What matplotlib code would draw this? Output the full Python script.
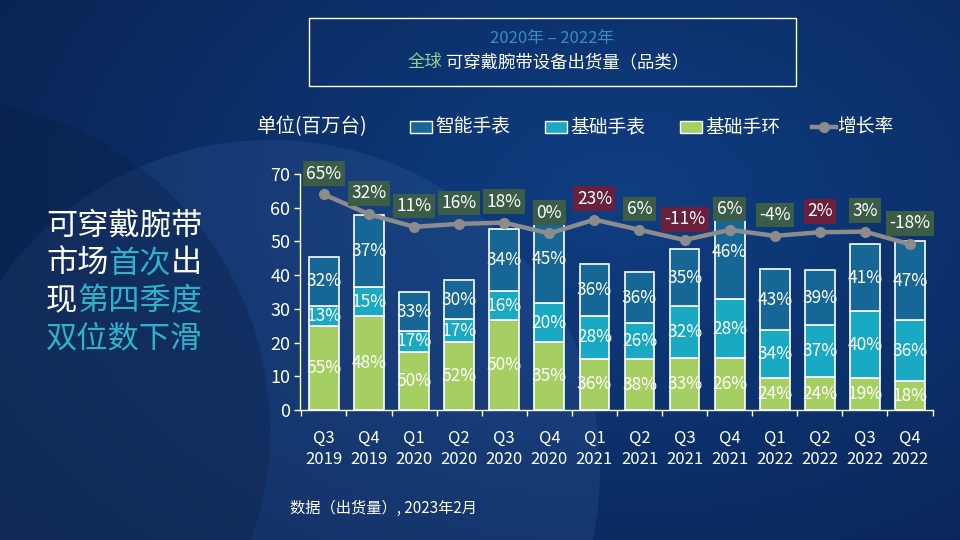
import matplotlib
matplotlib.use("Agg")
import matplotlib.pyplot as plt
import numpy as np
from matplotlib.patches import Rectangle, Circle
from matplotlib.lines import Line2D

plt.rcParams['font.family'] = ['Noto Sans CJK SC', 'DejaVu Sans']

quarters = ["Q3\n2019", "Q4\n2019", "Q1\n2020", "Q2\n2020", "Q3\n2020", "Q4\n2020", "Q1\n2021",
            "Q2\n2021", "Q3\n2021", "Q4\n2021", "Q1\n2022", "Q2\n2022", "Q3\n2022", "Q4\n2022"]
band = [25.0, 27.9, 17.3, 20.1, 26.6, 20.1, 15.2, 15.1, 15.3, 15.3, 9.4, 9.7, 9.4, 8.5]
basic_watch = [5.9, 8.5, 6.1, 6.8, 8.7, 11.5, 12.7, 10.6, 15.6, 17.5, 14.2, 15.5, 19.9, 18.1]
smart_watch = [14.6, 21.4, 11.5, 11.6, 18.4, 26.2, 15.3, 15.1, 16.8, 28.3, 18.1, 16.2, 20.0, 23.4]
band_pct = [55, 48, 50, 52, 50, 35, 36, 38, 33, 26, 24, 24, 19, 18]
basic_pct = [13, 15, 17, 17, 16, 20, 28, 26, 32, 28, 34, 37, 40, 36]
smart_pct = [32, 37, 33, 30, 34, 45, 36, 36, 35, 46, 43, 39, 41, 47]
growth = [65, 32, 11, 16, 18, 0, 23, 6, -11, 6, -4, 2, 3, -18]
series_names = ["智能手表", "基础手表", "基础手环", "增长率"]

C_SMART = "#176796"
C_BASIC = "#19a9c2"
C_BAND = "#a5cf63"
C_LINE = "#8c8c8c"
C_GBOX = "#3b5d48"
C_RBOX = "#6a1f3c"
TEAL = "#2db3c6"

W, H = 960, 540
fig = plt.figure(figsize=(9.6, 5.4), dpi=100)

# background
bg = fig.add_axes([0, 0, 1, 1])
bg.set_xlim(0, W); bg.set_ylim(H, 0); bg.axis("off")
yy, xx = np.mgrid[0:H, 0:W]
d = np.sqrt(((xx - 620) / 620.0) ** 2 + ((yy - 200) / 420.0) ** 2)
d = np.clip(d, 0, 1.3) / 1.3
c_in = np.array([0x0f, 0x3e, 0x82]) / 255
c_out = np.array([0x08, 0x1f, 0x4c]) / 255
img = c_in[None, None, :] * (1 - d[..., None]) + c_out[None, None, :] * d[..., None]
bg.imshow(img, extent=[0, W, H, 0], aspect="auto", zorder=0)
bg.add_patch(Circle((270, 470), 330, color="#4a70b0", alpha=0.18, lw=0, zorder=1))
bg.add_patch(Circle((-60, 430), 330, color="#0a1f45", alpha=0.35, lw=0, zorder=1))

# main axes
ax = fig.add_axes([300 / W, 1 - 410 / H, 633 / W, 236 / H])
ax.patch.set_alpha(0)
x = np.arange(len(quarters))
bw = 0.66
ax.bar(x, band, bw, color=C_BAND, edgecolor="white", lw=1.2, zorder=2)
ax.bar(x, basic_watch, bw, bottom=band, color=C_BASIC, edgecolor="white", lw=1.2, zorder=2)
bottom3 = np.array(band) + np.array(basic_watch)
ax.bar(x, smart_watch, bw, bottom=bottom3, color=C_SMART, edgecolor="white", lw=1.2, zorder=2)

FS = 12.5
for i in range(len(x)):
    ax.text(x[i], band[i] / 2, f"{band_pct[i]}%", ha="center", va="center", color="white", fontsize=FS, zorder=5)
    ax.text(x[i], band[i] + basic_watch[i] / 2, f"{basic_pct[i]}%", ha="center", va="center", color="white", fontsize=FS, zorder=5)
    ax.text(x[i], bottom3[i] + smart_watch[i] / 2, f"{smart_pct[i]}%", ha="center", va="center", color="white", fontsize=FS, zorder=5)

ax.set_xlim(-0.53, 13.51)
ax.set_ylim(0, 70)
ax.set_yticks(range(0, 71, 10))
ax.set_xticks(x)
ax.set_xticklabels(quarters, color="white", fontsize=12, linespacing=1.35)
ax.tick_params(axis="x", length=0, pad=14)
ax.set_xticks(np.arange(-0.5, 14, 1), minor=True)
ax.tick_params(axis="x", which="minor", length=4, color="white", width=1)
ax.tick_params(axis="y", colors="white", labelsize=13, length=4, width=1, pad=3)
for s in ["top", "right"]:
    ax.spines[s].set_visible(False)
for s in ["left", "bottom"]:
    ax.spines[s].set_color("white")
    ax.spines[s].set_linewidth(1)

# growth line on hidden secondary axis
ax2 = ax.twinx()
ax2.set_ylim(-294, 99)
ax2.axis("off")
ax2.plot(x, growth, color=C_LINE, lw=3.2, marker="o", ms=7, zorder=4)
for i, g in enumerate(growth):
    fc = C_RBOX if g in (23, -11, 2) else C_GBOX
    ax2.annotate(f"{g}%", (x[i], g), xytext=(0, 15), textcoords="offset points",
                 ha="center", va="center", color="white", fontsize=FS, zorder=6,
                 bbox=dict(boxstyle="square,pad=0.2", fc=fc, ec="none"))

# legend (manual)
fig.text(257 / W, 1 - 127 / H, "单位(百万台)", color="white", fontsize=14, va="center", ha="left")
leg_items = [(410, C_SMART, "patch", series_names[0]), (545, C_BASIC, "patch", series_names[1]),
             (680, C_BAND, "patch", series_names[2]), (812, C_LINE, "line", series_names[3])]
for px, col, kind, name in leg_items:
    if kind == "patch":
        bg.add_patch(Rectangle((px, 121), 22, 12, fc=col, ec="white", lw=1, zorder=3))
    else:
        bg.add_line(Line2D([px, px + 24], [127, 127], color=col, lw=3.2, zorder=3))
        bg.plot([px + 12], [127], "o", color=col, ms=7, zorder=3)
    fig.text((px + 25) / W, 1 - 127 / H, name, color="white", fontsize=13.5, va="center", ha="left")

# title box
bg.add_patch(Rectangle((309, 18), 487, 68, fill=False, ec="white", lw=1, zorder=3))
fig.text(552 / W, 1 - 38 / H, "2020年 – 2022年", color="#3a8cc2", fontsize=12, ha="center", va="center")

fig.canvas.draw()
renderer = fig.canvas.get_renderer()

def draw_pieces(pieces, x0, yc, fontsize, center=False):
    objs = []
    for txt, col in pieces:
        t = fig.text(0, 1 - yc / H, txt, color=col, fontsize=fontsize, ha="left", va="center")
        objs.append(t)
    widths = [o.get_window_extent(renderer).width for o in objs]
    start = x0 - sum(widths) / 2 if center else x0
    cur = start
    for o, w in zip(objs, widths):
        o.set_x(cur / W)
        cur += w

draw_pieces([("全球", "#8fd18f"), (" 可穿戴腕带设备出货量（品类）", "white")], 548, 62, 12.5, center=True)

lines = [
    [("可穿戴腕带", "white")],
    [("市场", "white"), ("首次", TEAL), ("出", "white")],
    [("现", "white"), ("第四季度", TEAL)],
    [("双位数下滑", TEAL)],
]
for k, ln in enumerate(lines):
    draw_pieces(ln, 46, 226 + k * 37.5, 22.5)

fig.text(290 / W, 1 - 508 / H, "数据（出货量）, 2023年2月", color="white", fontsize=11, ha="left", va="center")

fig.savefig("out.png", dpi=100)
